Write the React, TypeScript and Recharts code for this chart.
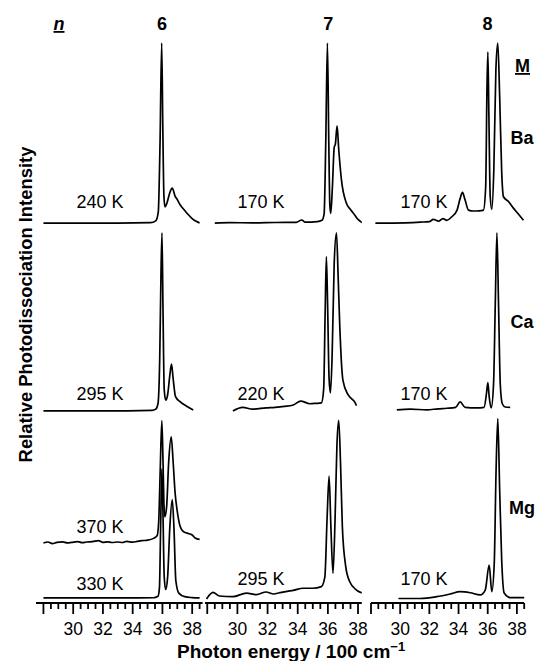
import { LineChart, Line, XAxis, YAxis } from "recharts";

type Pt = [number, number];

// spectra: [photon energy / 100 cm-1, relative intensity above the row baseline]

// n = 6
const BA_6: Pt[] = [
  [28.0, 0], [30.0, 0], [33.0, 0], [35.2, 0.002], [35.55, 0.012], [35.72, 0.06],
  [35.84, 0.45], [35.95, 1.0], [36.03, 0.5], [36.1, 0.15], [36.17, 0.09], [36.3, 0.11],
  [36.5, 0.17], [36.66, 0.194], [36.85, 0.15], [37.0, 0.13], [37.2, 0.1], [37.5, 0.07],
  [37.7, 0.05], [38.0, 0.025], [38.3, 0.008], [38.5, 0],
];
const CA_6: Pt[] = [
  [28.0, 0], [32.0, 0], [35.3, 0.003], [35.55, 0.01], [35.7, 0.04], [35.82, 0.3],
  [35.9, 0.75], [35.97, 0.99], [36.04, 0.55], [36.12, 0.12], [36.22, 0.06], [36.35, 0.09],
  [36.5, 0.2], [36.61, 0.26], [36.72, 0.18], [36.88, 0.08], [37.2, 0.05], [37.66, 0.025],
  [38.07, 0.005],
];
const MG_6_330: Pt[] = [
  [28.0, 0.003], [32.0, 0.003], [35.4, 0.004], [35.7, 0.012], [35.8, 0.06], [35.88, 0.4],
  [35.96, 0.72], [36.03, 0.5], [36.12, 0.12], [36.22, 0.05], [36.35, 0.12], [36.5, 0.4],
  [36.66, 0.55], [36.78, 0.38], [36.9, 0.1], [37.1, 0.03], [37.5, 0.01], [38.0, 0.005],
  [38.5, 0.003],
];
const MG_6_370: Pt[] = [
  [28.0, 0], [28.3, 0.006], [28.6, -0.003], [28.9, 0.004], [29.3, 0.007], [29.6, 0.001],
  [29.9, 0.004], [30.3, 0.008], [30.6, 0.002], [30.9, 0.006], [31.3, 0.008], [31.7, 0.014],
  [32.0, 0.004], [32.3, 0.007], [32.6, 0.003], [33.0, 0.006], [33.3, 0.003], [33.6, 0.009],
  [34.0, 0.005], [34.3, 0.009], [34.6, 0.013], [35.0, 0.016], [35.4, 0.026], [35.64, 0.04],
  [35.75, 0.12], [35.85, 0.4], [35.96, 0.68], [36.04, 0.45], [36.1, 0.22], [36.16, 0.146],
  [36.28, 0.2], [36.42, 0.45], [36.59, 0.59], [36.72, 0.45], [36.85, 0.28], [36.99, 0.18],
  [37.2, 0.09], [37.4, 0.065], [37.66, 0.055], [38.0, 0.045], [38.2, 0.028], [38.5, 0.02],
];

// n = 7
const BA_7: Pt[] = [
  [28.5, 0], [29.5, 0.002], [31.0, 0.001], [32.5, 0.003], [33.9, 0.004], [34.27, 0.017],
  [34.5, 0.005], [35.3, 0.008], [35.6, 0.015], [35.75, 0.05], [35.86, 0.45], [35.97, 1.0],
  [36.06, 0.45], [36.13, 0.1], [36.19, 0.054], [36.3, 0.2], [36.42, 0.42], [36.5, 0.44],
  [36.61, 0.54], [36.72, 0.41], [36.9, 0.24], [37.23, 0.11], [37.5, 0.075], [37.78, 0.045],
  [38.0, 0.02], [38.33, 0],
];
const CA_7: Pt[] = [
  [29.7, 0], [30.35, 0.02], [31.0, 0.01], [31.9, 0.017], [32.5, 0.02], [33.1, 0.025],
  [33.7, 0.033], [34.2, 0.055], [34.8, 0.04], [35.2, 0.042], [35.57, 0.045], [35.72, 0.12],
  [35.82, 0.55], [35.9, 0.857], [35.98, 0.6], [36.08, 0.18], [36.17, 0.1], [36.28, 0.3],
  [36.42, 0.82], [36.57, 0.99], [36.68, 0.75], [36.79, 0.47], [37.0, 0.17], [37.34, 0.09],
  [37.78, 0.05], [37.9, 0.03],
];
const MG_7: Pt[] = [
  [27.95, -0.003], [28.15, 0.02], [28.38, 0.034], [28.8, 0.014], [29.7, 0.01], [30.6, 0.03],
  [31.26, 0.022], [31.9, 0.036], [32.4, 0.025], [32.8, 0.032], [33.3, 0.04], [33.7, 0.045],
  [34.35, 0.057], [35.0, 0.057], [35.57, 0.066], [35.8, 0.12], [35.95, 0.45], [36.08, 0.68],
  [36.2, 0.4], [36.34, 0.14], [36.48, 0.45], [36.6, 0.85], [36.72, 0.99], [36.84, 0.75],
  [36.96, 0.4], [37.18, 0.18], [37.45, 0.093], [37.9, 0.047], [38.33, 0.03],
];

// n = 8
const BA_8: Pt[] = [
  [28.3, 0], [29.5, 0], [31.4, 0.005], [32.0, 0.008], [32.28, 0.02], [32.63, 0.01],
  [32.93, 0.025], [33.2, 0.015], [33.54, 0.035], [33.89, 0.07], [34.11, 0.137], [34.27, 0.17],
  [34.45, 0.128], [34.68, 0.072], [35.02, 0.067], [35.4, 0.068], [35.71, 0.072], [35.86, 0.2],
  [35.95, 0.75], [36.01, 0.95], [36.08, 0.6], [36.17, 0.15], [36.28, 0.076], [36.42, 0.3],
  [36.56, 0.85], [36.69, 1.0], [36.82, 0.7], [36.96, 0.28], [37.08, 0.146], [37.42, 0.12],
  [37.76, 0.083], [38.1, 0.05], [38.45, 0.015],
];
const CA_8: Pt[] = [
  [29.77, 0.006], [30.68, 0.01], [31.83, 0.006], [32.6, 0.012], [33.2, 0.015], [33.8, 0.02],
  [34.11, 0.05], [34.45, 0.02], [35.25, 0.017], [35.75, 0.02], [35.92, 0.1], [36.01, 0.158],
  [36.1, 0.08], [36.24, 0.017], [36.4, 0.15], [36.52, 0.6], [36.63, 0.99], [36.74, 0.6],
  [36.86, 0.15], [37.0, 0.04], [37.2, 0.022], [37.54, 0.02],
];
const MG_8: Pt[] = [
  [29.88, 0], [31.37, 0], [32.5, 0.01], [33.43, 0.025], [34.11, 0.038], [34.8, 0.032],
  [35.48, 0.02], [35.83, 0.047], [36.1, 0.186], [36.28, 0.038], [36.45, 0.2], [36.57, 0.7],
  [36.69, 1.0], [36.82, 0.6], [36.96, 0.21], [37.13, 0.03], [37.54, 0.005], [38.57, 0.005],
];

const METALS = ["Ba", "Ca", "Mg"];
const ROW_OFFSET: Record<string, number> = { Ba: 2.111, Ca: 1.067, Mg: 0.025 };
const MG_6_370_OFFSET = 0.333;
const Y_MAX = 3.139;

const TICKS = [28, 28.5, 29, 29.5, 30, 30.5, 31, 31.5, 32, 32.5, 33, 33.5, 34, 34.5, 35, 35.5, 36, 36.5, 37, 37.5, 38, 38.5];
const TICK_LABELS = [30, 32, 34, 36, 38];

const FONT = "'Liberation Sans', Arial, Helvetica, sans-serif";

type Trace = { pts: Pt[]; offset: number; label: string; labelY: number };

const PANELS: {
  n: string;
  left: number;
  width: number;
  domain: [number, number];
  labelX: number;
  traces: Trace[];
}[] = [
  {
    n: "6", left: 35.5, width: 166.6, domain: [27.5, 38.7], labelX: 100,
    traces: [
      { pts: BA_6, offset: ROW_OFFSET.Ba, label: "240 K", labelY: 208 },
      { pts: CA_6, offset: ROW_OFFSET.Ca, label: "295 K", labelY: 400 },
      { pts: MG_6_370, offset: MG_6_370_OFFSET, label: "370 K", labelY: 533 },
      { pts: MG_6_330, offset: ROW_OFFSET.Mg, label: "330 K", labelY: 590 },
    ],
  },
  {
    n: "7", left: 205.3, width: 156.8, domain: [27.85, 38.25], labelX: 261,
    traces: [
      { pts: BA_7, offset: ROW_OFFSET.Ba, label: "170 K", labelY: 208 },
      { pts: CA_7, offset: ROW_OFFSET.Ca, label: "220 K", labelY: 400 },
      { pts: MG_7, offset: ROW_OFFSET.Mg, label: "295 K", labelY: 585 },
    ],
  },
  {
    n: "8", left: 370.8, width: 153.2, domain: [28.0, 38.5], labelX: 424,
    traces: [
      { pts: BA_8, offset: ROW_OFFSET.Ba, label: "170 K", labelY: 208 },
      { pts: CA_8, offset: ROW_OFFSET.Ca, label: "170 K", labelY: 400 },
      { pts: MG_8, offset: ROW_OFFSET.Mg, label: "170 K", labelY: 585 },
    ],
  },
];

const METAL_Y = [144, 328, 514];

// wide side margins so the edge tick labels are not clipped by the svg
const M_L = 14;
const M_R = 14;

function EnergyTick(props: any) {
  const { x, y, payload } = props;
  const v = payload.value as number;
  const major = v % 2 === 0;
  return (
    <g>
      <line x1={x} x2={x} y1={y} y2={y + (major ? 11 : 6)} stroke="#000" strokeWidth={1.8} />
      {TICK_LABELS.includes(v) && (
        <text x={x} y={y + 32} textAnchor="middle" fontSize={17.5} fontFamily={FONT} fill="#000">
          {v}
        </text>
      )}
    </g>
  );
}

function Panel({ p, first }: { p: (typeof PANELS)[number]; first: boolean }) {
  const ticks = TICKS.filter((t) => t >= p.domain[0] && t <= p.domain[1]);
  return (
    <div style={{ position: "absolute", left: p.left - M_L, top: 0 }}>
      <LineChart
        width={p.width + M_L + M_R}
        height={661}
        margin={{ top: 38, right: M_R, bottom: 8, left: M_L }}
      >
        <XAxis
          type="number"
          dataKey="x"
          domain={p.domain}
          allowDataOverflow
          ticks={ticks}
          interval={0}
          height={50}
          tickSize={0}
          tickMargin={0}
          tickLine={false}
          axisLine={{ stroke: "#000", strokeWidth: 2.2 }}
          tick={<EnergyTick />}
        />
        {first ? (
          <YAxis
            width={0}
            domain={[0, Y_MAX]}
            allowDataOverflow
            tick={false}
            tickLine={false}
            axisLine={{ stroke: "#000", strokeWidth: 2.2 }}
          />
        ) : (
          <YAxis hide domain={[0, Y_MAX]} allowDataOverflow />
        )}
        {p.traces.map((t, i) => (
          <Line
            key={i}
            data={t.pts.map(([x, y]) => ({ x, y: y + t.offset }))}
            dataKey="y"
            type="monotone"
            stroke="#000"
            strokeWidth={1.7}
            dot={false}
            activeDot={false}
            isAnimationActive={false}
          />
        ))}
      </LineChart>
    </div>
  );
}

export default function App() {
  return (
    <div style={{ position: "absolute", left: 0, top: 0, width: 537, height: 661, background: "#fff" }}>
      {PANELS.map((p, i) => (
        <Panel key={p.n} p={p} first={i === 0} />
      ))}
      <svg
        width={537}
        height={661}
        style={{ position: "absolute", left: 0, top: 0, pointerEvents: "none" }}
        fontFamily={FONT}
      >
        <text x={59} y={30} fontSize={18} fontWeight="bold" fontStyle="italic" textAnchor="middle" textDecoration="underline">
          n
        </text>
        {PANELS.map((p) => (
          <text key={p.n} x={p.left + (36 - p.domain[0]) * (p.width / (p.domain[1] - p.domain[0]))} y={30} fontSize={18} fontWeight="bold" textAnchor="middle">
            {p.n}
          </text>
        ))}
        <text x={522.5} y={72} fontSize={18} fontWeight="bold" textAnchor="middle" textDecoration="underline">
          M
        </text>
        {METALS.map((m, i) => (
          <text key={m} x={522} y={METAL_Y[i]} fontSize={18} fontWeight="bold" textAnchor="middle">
            {m}
          </text>
        ))}
        {PANELS.map((p) =>
          p.traces.map((t, i) => (
            <text key={p.n + i} x={p.labelX} y={t.labelY} fontSize={18} textAnchor="middle">
              {t.label}
            </text>
          ))
        )}
        <text x={177} y={658} fontSize={19} fontWeight="bold">
          Photon energy / 100 cm
          <tspan fontSize={13} dy={-7}>−1</tspan>
        </text>
        <text
          x={31.5}
          y={304.5}
          fontSize={18.4}
          fontWeight="bold"
          textAnchor="middle"
          transform="rotate(-90 31.5 304.5)"
        >
          Relative Photodissociation Intensity
        </text>
      </svg>
    </div>
  );
}
